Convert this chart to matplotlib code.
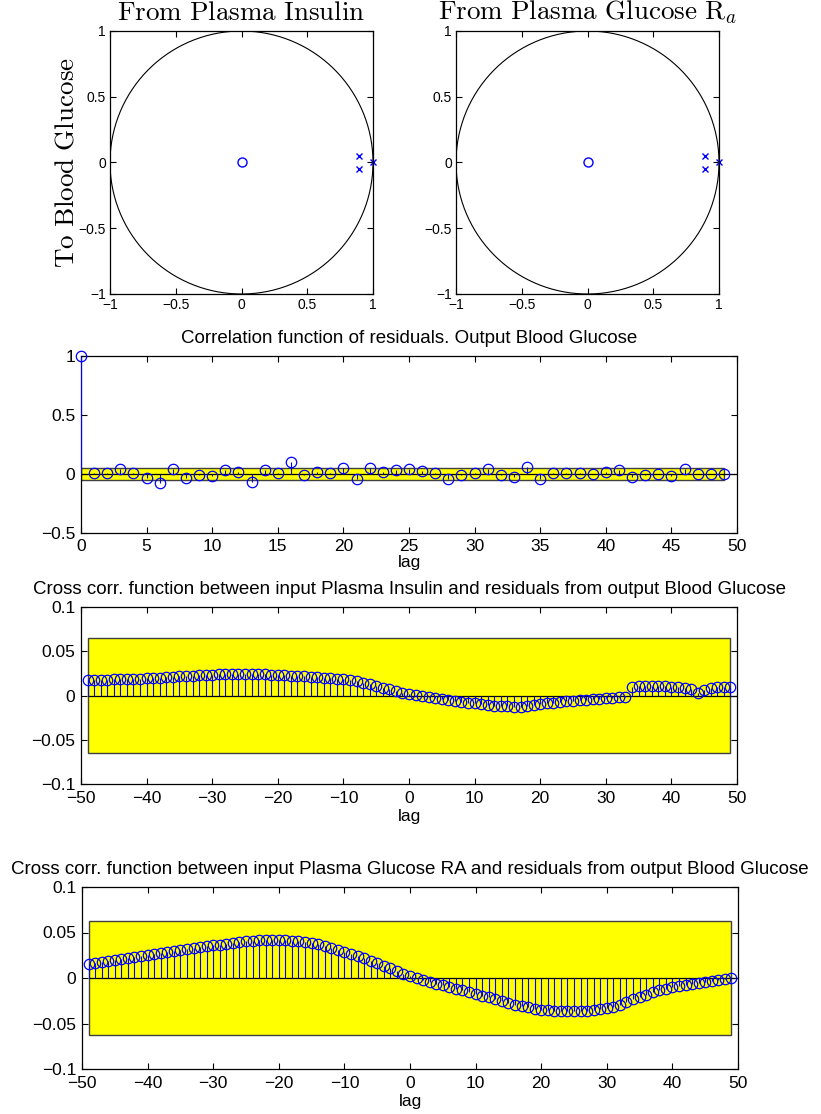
import matplotlib
matplotlib.use("Agg")
import matplotlib.pyplot as plt
from matplotlib.patches import Rectangle
import numpy as np

plt.rcParams['font.family'] = ['Liberation Sans', 'DejaVu Sans']
plt.rcParams['mathtext.fontset'] = 'cm'

# ---------------- date -----------------
# poli si zerouri (la fel pentru ambele intrari)
zerouri_re = [0.0]
zerouri_im = [0.0]
poli_re = [0.89, 0.89, 1.0]
poli_im = [0.05, -0.05, 0.0]

# autocorelatia reziduurilor, lag 0..49
lag_auto = list(range(0, 50))
val_auto = [1.0, 0.006, 0.008, 0.045, 0.006, -0.037, -0.073, 0.042, -0.031, -0.011,
            -0.017, 0.034, 0.014, -0.068, 0.034, 0.008, 0.099, -0.008, 0.02, 0.008,
            0.054, -0.042, 0.054, 0.014, 0.034, 0.042, 0.028, 0.008, -0.045, -0.011,
            0.011, 0.042, -0.006, -0.025, 0.059, -0.042, 0.006, 0.006, 0.011, 0.0,
            0.02, 0.034, -0.025, -0.006, 0.0, -0.02, 0.042, -0.003, -0.003, 0.0]
banda_auto = 0.055

# corelatia incrucisata, lag -49..49
lag_cross = list(range(-49, 50))
val_insulina = [0.018, 0.0178, 0.0178, 0.018, 0.0182, 0.0185, 0.0188, 0.019, 0.0192, 0.0195,
                0.0197, 0.02, 0.0205, 0.021, 0.0215, 0.022, 0.0225, 0.023, 0.0233, 0.0236,
                0.0238, 0.024, 0.0242, 0.0243, 0.0243, 0.0242, 0.024, 0.0238, 0.0235, 0.0232,
                0.0228, 0.0224, 0.022, 0.0216, 0.0212, 0.0208, 0.0203, 0.0197, 0.019, 0.0182,
                0.0172, 0.016, 0.0145, 0.0128, 0.011, 0.009, 0.007, 0.005, 0.0032, 0.0015,
                0.0002, -0.001, -0.0022, -0.0033, -0.0043, -0.0053, -0.0063, -0.0073, -0.0082, -0.009,
                -0.0098, -0.0106, -0.0113, -0.0118, -0.0122, -0.0125, -0.0127, -0.012, -0.011, -0.0098,
                -0.0088, -0.008, -0.0072, -0.0066, -0.006, -0.0054, -0.0048, -0.0042, -0.0036, -0.003,
                -0.0025, -0.002, -0.0015, 0.0095, 0.0102, 0.0104, 0.0106, 0.0106, 0.0104, 0.0101,
                0.0095, 0.0085, 0.007, 0.003, 0.0065, 0.0085, 0.0092, 0.0095, 0.0097]
val_glucoza = [0.0155, 0.0166, 0.0177, 0.0188, 0.0199, 0.021, 0.0221, 0.0232, 0.0243, 0.0254,
               0.0265, 0.0276, 0.0287, 0.0298, 0.0309, 0.0319, 0.0329, 0.0339, 0.0349, 0.0358,
               0.0368, 0.0378, 0.0387, 0.0395, 0.0402, 0.0408, 0.0413, 0.0416, 0.0417, 0.0416,
               0.0414, 0.041, 0.0404, 0.0396, 0.0385, 0.037, 0.0352, 0.0332, 0.031, 0.0287,
               0.0264, 0.0241, 0.0217, 0.0192, 0.0165, 0.0137, 0.0108, 0.0078, 0.0049, 0.0021,
               -0.0002, -0.0024, -0.0045, -0.0064, -0.0082, -0.01, -0.0118, -0.0136, -0.0154, -0.0172,
               -0.0193, -0.0214, -0.0235, -0.0255, -0.0274, -0.0292, -0.0309, -0.0324, -0.0337, -0.0347,
               -0.0355, -0.036, -0.0363, -0.0364, -0.0364, -0.0362, -0.0358, -0.0352, -0.0344, -0.0333,
               -0.0316, -0.0296, -0.0268, -0.0236, -0.0208, -0.0182, -0.0158, -0.0136, -0.0116, -0.0098,
               -0.0084, -0.0072, -0.0062, -0.0052, -0.0041, -0.003, -0.0019, -0.0008, 0.0004]
banda_insulina = 0.065
banda_glucoza = 0.063

# etichete
ticks_pz = [-1, -0.5, 0, 0.5, 1]
etich_pz = ['\u22121', '\u22120.5', '0', '0.5', '1']
ticks_auto_x = [0, 5, 10, 15, 20, 25, 30, 35, 40, 45, 50]
ticks_auto_y = [-0.5, 0, 0.5, 1]
etich_auto_y = ['\u22120.5', '0', '0.5', '1']
ticks_cross_x = [-50, -40, -30, -20, -10, 0, 10, 20, 30, 40, 50]
etich_cross_x = ['\u221250', '\u221240', '\u221230', '\u221220', '\u221210', '0', '10', '20', '30', '40', '50']
ticks_cross_y = [-0.1, -0.05, 0, 0.05, 0.1]
etich_cross_y = ['\u22120.1', '\u22120.05', '0', '0.05', '0.1']

titlu_auto = 'Correlation function of residuals. Output Blood Glucose'
titlu_ins = 'Cross corr. function between input Plasma Insulin and residuals from output Blood Glucose'
titlu_glu = 'Cross corr. function between input Plasma Glucose RA and residuals from output Blood Glucose'

W, H = 821, 1114
fig = plt.figure(figsize=(W / 100, H / 100), dpi=100)


def axa(x0, y0, x1, y1):
    # axa data in pixeli (stanga, sus, dreapta, jos)
    return fig.add_axes([x0 / W, 1 - y1 / H, (x1 - x0) / W, (y1 - y0) / H])


def stil(ax, fs, padx=4, pady=4):
    ax.tick_params(direction='in', top=True, right=True, length=4, width=0.8,
                   labelsize=fs)
    ax.tick_params(axis='x', pad=padx)
    ax.tick_params(axis='y', pad=pady)
    for s in ax.spines.values():
        s.set_linewidth(0.9)


# ----------------- poli / zerouri -----------------
titluri_pz = [r'$\mathrm{From\ Plasma\ Insulin}$', r'$\mathrm{From\ Plasma\ Glucose\ R}_a$']
for k, x0 in enumerate([110, 456]):
    ax = axa(x0, 31, x0 + 263, 294)
    t = np.linspace(0, 2 * np.pi, 400)
    ax.plot(np.cos(t), np.sin(t), color='black', lw=0.8)
    ax.plot(zerouri_re, zerouri_im, 'o', mfc='none', mec='blue', ms=6.5, mew=1)
    ax.plot(poli_re, poli_im, 'x', color='blue', ms=4, mew=1, clip_on=False)
    ax.set_xlim(-1, 1)
    ax.set_ylim(-1, 1)
    ax.set_xticks(ticks_pz)
    ax.set_xticklabels(etich_pz)
    ax.set_yticks(ticks_pz)
    ax.set_yticklabels(etich_pz)
    stil(ax, 10, 3, 3)
    ax.set_title(titluri_pz[k], fontsize=19.5, pad=8)

fig.text(67 / W, 1 - 162.5 / H, r'$\mathrm{To\ Blood\ Glucose}$', rotation=90,
         fontsize=19.5, ha='center', va='center')


# ----------------- stem cu banda de incredere -----------------
def stem_banda(ax, lags, vals, banda, xlim):
    ax.add_patch(Rectangle((lags[0], -banda), lags[-1] - lags[0], 2 * banda,
                           facecolor='yellow', edgecolor='0.25', lw=1, zorder=1))
    ax.hlines(0, lags[0], xlim[1], color='black', lw=0.9, zorder=2)
    ax.vlines(lags, 0, vals, color='blue', lw=0.8, zorder=3)
    ax.plot(lags, vals, 'o', mfc='none', mec='blue', ms=7.5, mew=0.9, zorder=4,
            clip_on=False)
    ax.set_xlim(*xlim)


ax = axa(81, 356, 737, 533)
stem_banda(ax, lag_auto, val_auto, banda_auto, (0, 50))
ax.set_ylim(-0.5, 1)
ax.set_xticks(ticks_auto_x)
ax.set_yticks(ticks_auto_y)
ax.set_yticklabels(etich_auto_y)
stil(ax, 12.5, 4, 4)
ax.set_title(titlu_auto, fontsize=13.5, pad=9)
ax.set_xlabel('lag', fontsize=12.5, labelpad=1)

ax = axa(81, 607, 737, 784)
stem_banda(ax, lag_cross, val_insulina, banda_insulina, (-50, 50))
ax.set_ylim(-0.1, 0.1)
ax.set_xticks(ticks_cross_x)
ax.set_xticklabels(etich_cross_x)
ax.set_yticks(ticks_cross_y)
ax.set_yticklabels(etich_cross_y)
stil(ax, 12.5, 5, 4)
ax.set_title(titlu_ins, fontsize=13.5, pad=9)
ax.set_xlabel('lag', fontsize=12.5, labelpad=2)

ax = axa(82, 887, 738, 1069)
stem_banda(ax, lag_cross, val_glucoza, banda_glucoza, (-50, 50))
ax.set_ylim(-0.1, 0.1)
ax.set_xticks(ticks_cross_x)
ax.set_xticklabels(etich_cross_x)
ax.set_yticks(ticks_cross_y)
ax.set_yticklabels(etich_cross_y)
stil(ax, 12.5, 5, 4)
ax.set_title(titlu_glu, fontsize=13.5, pad=9)
ax.set_xlabel('lag', fontsize=12.5, labelpad=2)

fig.savefig('out.png', dpi=100)
